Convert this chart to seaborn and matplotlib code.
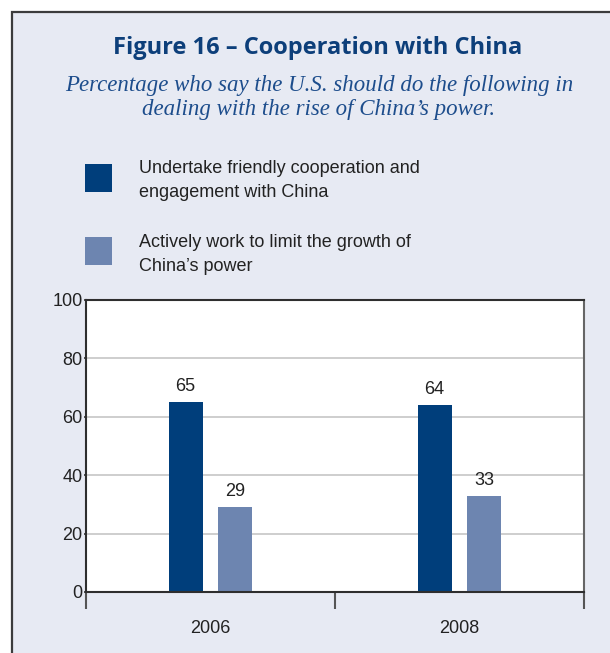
import matplotlib
matplotlib.use("Agg")
import matplotlib.pyplot as plt
from matplotlib.patches import Rectangle
import seaborn as sns
import pandas as pd

# Survey results: share who favour each approach to China
years = ["2006", "2008"]
series = [
    "Undertake friendly cooperation and\nengagement with China",
    "Actively work to limit the growth of\nChina\u2019s power",
]
cooperate = [65, 64]
limit = [29, 33]
yticks = [0, 20, 40, 60, 80, 100]

colors = ["#003e7b", "#6d85b0"]
panel_bg = "#e7eaf3"
sans = ["Liberation Sans", "DejaVu Sans"]
ink = "#222222"

df = pd.DataFrame({
    "year": years * 2,
    "series": [series[0]] * 2 + [series[1]] * 2,
    "value": cooperate + limit,
})

sns.set_theme(style="white")
plt.rcParams["font.family"] = sans

W, H = 610, 653
fig = plt.figure(figsize=(W / 100, H / 100), dpi=100, facecolor="white")

# shaded panel with a dark edge on top and left
fig.add_artist(Rectangle((12.5 / W, -0.05), 1.2, 1 - 12 / H + 0.05,
                         transform=fig.transFigure, facecolor=panel_bg,
                         edgecolor="#3c3c3c", linewidth=1.6, zorder=0))

ax = fig.add_axes([86 / W, 1 - 592 / H, (584 - 86) / W, (592 - 300) / H])
ax.set_facecolor("white")

sns.barplot(data=df, x="year", y="value", hue="series", hue_order=series,
            palette=colors, width=0.4, gap=0.32, saturation=1,
            linewidth=0, legend=False, ax=ax)

for cont in ax.containers:
    ax.bar_label(cont, fmt="%d", padding=5, fontsize=13, color=ink)

ax.set_xlim(-0.5, 1.5)
ax.set_ylim(0, 100)
ax.set_yticks(yticks)
ax.set_yticklabels([str(v) for v in yticks], fontsize=13, color=ink)
ax.tick_params(axis="y", left=True, length=1.5, width=1.2, color="#333333",
               pad=1)
ax.set_xticks([0, 1])
ax.set_xticklabels(years, fontsize=13, color=ink)
ax.tick_params(axis="x", which="major", length=0, pad=20)
ax.set_xticks([-0.5, 0.5, 1.5], minor=True)
ax.tick_params(axis="x", which="minor", bottom=True, length=12, width=1.5,
               color="#555555", direction="out")
ax.set_xlabel("")
ax.set_ylabel("")

for y in yticks[1:-1]:
    ax.axhline(y, color="#cacaca", linewidth=1.3, zorder=0)

for side in ["left", "bottom", "top"]:
    ax.spines[side].set_visible(True)
    ax.spines[side].set_color("#2e2e2e")
    ax.spines[side].set_linewidth(1.5)
ax.spines["right"].set_visible(True)
ax.spines["right"].set_color("#666666")
ax.spines["right"].set_linewidth(1.5)

# titles
fig.text(318 / W, 1 - 48 / H, "Figure 16 \u2013 Cooperation with China",
         ha="center", va="center", fontsize=17, fontweight="bold",
         color="#0d3f7a", family=["Open Sans", "DejaVu Sans"])
for k, line in enumerate(["Percentage who say the U.S. should do the following in",
                          "dealing with the rise of China\u2019s power."]):
    fig.text(319 / W, 1 - (91 + 24 * k) / H, line,
             ha="center", va="baseline", fontsize=16.5, style="italic",
             color="#1d4d8c", family=["Liberation Serif", "DejaVu Serif"])

# legend keys and labels, one text per line placed on its baseline
for i, (label, col) in enumerate(zip(series, colors)):
    top = 164 + i * 73
    fig.add_artist(Rectangle((85 / W, 1 - (top + 28) / H), 27 / W, 28 / H,
                             transform=fig.transFigure, facecolor=col,
                             edgecolor="none"))
    for j, line in enumerate(label.split("\n")):
        base = 173 + i * 74 + j * 24
        fig.text(139 / W, 1 - base / H, line, ha="left", va="baseline",
                 fontsize=13, color=ink)

fig.savefig("out.png", dpi=100, facecolor="white")
